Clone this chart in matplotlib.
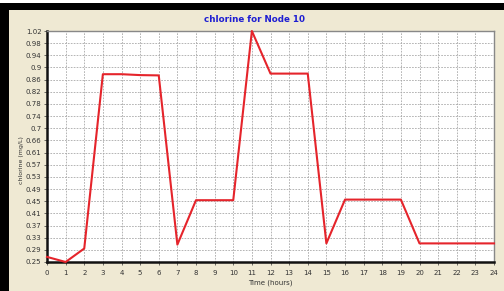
import matplotlib
matplotlib.use("Agg")
import matplotlib.pyplot as plt
from matplotlib.patches import Rectangle

hours = list(range(25))
chlorine = [0.267, 0.25, 0.295, 0.876, 0.876, 0.873, 0.872, 0.308, 0.456, 0.456, 0.456,
            1.02, 0.878, 0.878, 0.878, 0.312, 0.458, 0.458, 0.458, 0.458,
            0.312, 0.312, 0.312, 0.312, 0.312]
ymin, ymax, nint = 0.25, 1.02, 19
yticks = [ymin + i * (ymax - ymin) / nint for i in range(nint + 1)]
ytick_labels = [f"{v:.2f}".rstrip("0") if f"{v:.2f}".endswith("0") else f"{v:.2f}" for v in yticks]
title = "chlorine for Node 10"
xlabel = "Time (hours)"
ylabel = "chlorine (mg/L)"

W, H = 504, 291
fig = plt.figure(figsize=(W / 100, H / 100), dpi=100)
fig.patch.set_facecolor("white")
cream = "#EFE9D3"
fig.patches.append(Rectangle((0, 0), 1, 1 - 3 / H, transform=fig.transFigure,
                             facecolor=cream, edgecolor="none", zorder=-3))
fig.patches.append(Rectangle((0, 1 - 10 / H), 1, 7 / H, transform=fig.transFigure,
                             facecolor="black", edgecolor="none", zorder=-2))
fig.patches.append(Rectangle((0, 0), 9 / W, 1 - 3 / H, transform=fig.transFigure,
                             facecolor="black", edgecolor="none", zorder=-2))

ax = fig.add_axes([47 / W, 1 - 262 / H, (494 - 47) / W, (262 - 31) / H])
ax.set_facecolor("white")
ax.plot(hours, chlorine, color="#E5242B", lw=1.5, zorder=3, clip_on=False)
ax.set_xlim(0, 24)
ax.set_ylim(ymin, ymax)
ax.set_xticks(hours)
ax.set_xticklabels([str(h) for h in hours])
ax.set_yticks(yticks)
ax.set_yticklabels(ytick_labels)
ax.grid(True, color="#A8A8A8", linestyle=(0, (2, 1.5)), lw=0.6)
ax.tick_params(labelsize=5, length=2, width=0.5, colors="#333333", pad=2)
ax.tick_params(axis="x", pad=4)
for s in ["top", "right"]:
    ax.spines[s].set_color("#888888")
    ax.spines[s].set_linewidth(1.0)
for s in ["left", "bottom"]:
    ax.spines[s].set_color("#111111")
    ax.spines[s].set_linewidth(1.8)

fig.text(255 / W, 1 - 20 / H, title, ha="center", va="center", color="#1E1ED2",
         fontsize=6.3, fontweight="bold")
fig.text(270 / W, 1 - 283 / H, xlabel, ha="center", va="center", fontsize=5, color="#333333")
fig.text(22 / W, 1 - 160 / H, ylabel, ha="center", va="center", rotation=90, fontsize=4.5,
         color="#333333")

fig.savefig("out.png", dpi=100, facecolor=fig.get_facecolor())
